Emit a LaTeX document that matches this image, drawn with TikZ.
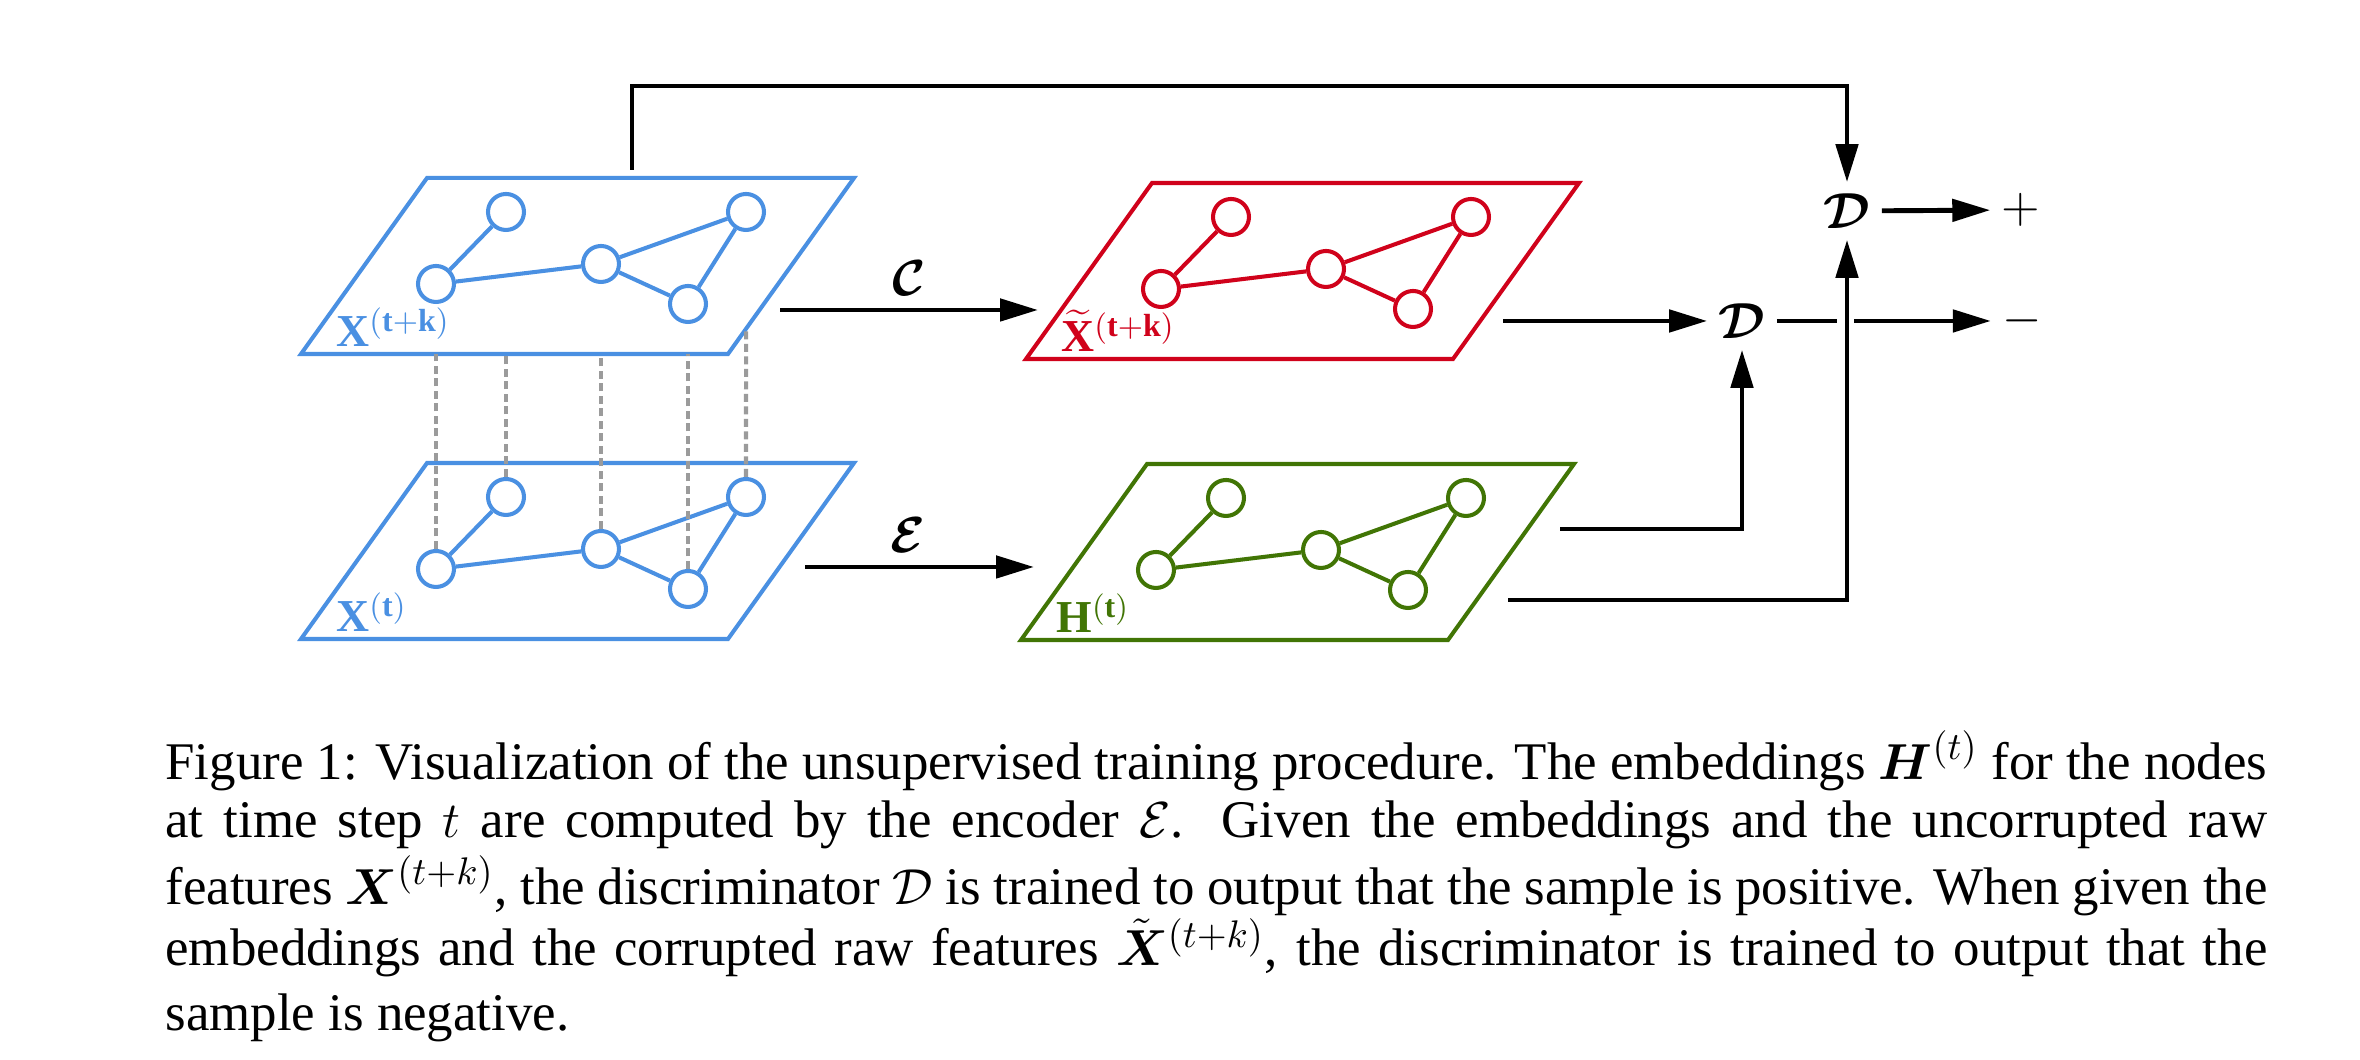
\documentclass[tikz,border=0pt]{standalone}
\usepackage{amsmath}
\usepackage{fontspec}
\setmainfont{Liberation Serif}
\usetikzlibrary{arrows.meta}
\definecolor{planeblue}{RGB}{74,144,226}
\definecolor{planered}{RGB}{208,2,27}
\definecolor{planegreen}{RGB}{65,117,5}
\definecolor{linkgray}{RGB}{155,155,155}

\begin{document}
\begin{tikzpicture}[
    line width=1.4pt,
    plane/.style={line width=1.15pt, line join=miter},
    gnode/.style={circle, draw=#1, fill=white, line width=1.15pt, minimum size=0.36cm, inner sep=0pt},
    gedge/.style={draw=#1, line width=1.15pt},
    flow/.style={-{Triangle[length=0.38cm,width=0.22cm]}, line width=1.4pt},
    link/.style={linkgray, dash pattern=on 0.08cm off 0.045cm, line width=1.15pt},
    op/.style={inner sep=0.09cm, font=\fontsize{14}{16}\selectfont},
    planelabel/.style={anchor=base west, inner sep=0pt, font=\fontsize{13}{15}\selectfont},
  ]
\useasboundingbox (0,0) rectangle (23.6,10.6);

% graph planes
\foreach \p/\col/\tx/\ty/\lab in {
    t/planeblue/4.27/8.82/{$\mathbf{X}^{(\mathbf{t+k})}$},
    b/planeblue/4.27/5.97/{$\mathbf{X}^{(\mathbf{t})}$},
    r/planered/11.52/8.77/{$\widetilde{\mathbf{X}}^{(\mathbf{t+k})}$},
    g/planegreen/11.47/5.96/{$\mathbf{H}^{(\mathbf{t})}$}}{
  \begin{scope}[shift={(\tx,\ty)}]
    \draw[plane, \col] (0,0) coordinate (\p-tl) -- (4.27,0) coordinate (\p-tr)
      -- (3.01,-1.76) coordinate (\p-br) -- (-1.26,-1.76) coordinate (\p-bl) -- cycle;
    \node[gnode=\col] (\p1) at (0.79,-0.34) {};
    \node[gnode=\col] (\p2) at (0.09,-1.06) {};
    \node[gnode=\col] (\p3) at (1.74,-0.86) {};
    \node[gnode=\col] (\p4) at (3.19,-0.34) {};
    \node[gnode=\col] (\p5) at (2.61,-1.26) {};
    \foreach \u/\v in {1/2,2/3,3/4,3/5,4/5}
      \draw[gedge=\col] (\p\u) -- (\p\v);
    \node[planelabel, text=\col] (\p-lab) at (-0.93,-1.69) {\lab};
  \end{scope}
}

% correspondences between X(t+k) and X(t)
\foreach \i in {1,2,3,5}
  \draw[link] (b\i.north) -- (b\i.north |- t-bl);
\draw[link] (b4.north) -- (intersection of b4.north--t4.center and t-br--t-tr);

% discriminators
\node[op] (Dp) at (18.47,8.49) {$\boldsymbol{\mathcal{D}}$};
\node[op] (plus) at (20.21,8.50) {$+$};
\node[op] (Dm) at (17.42,7.39) {$\boldsymbol{\mathcal{D}}$};
\node[op] (minus) at (20.22,7.39) {$-$};

\coordinate (t-out) at (6.32,8.90);
\coordinate (t-up) at (6.32,9.74);
\coordinate (t-c) at (7.80,7.50);
\coordinate (r-c) at (10.38,7.50);
\coordinate (b-e) at (8.05,4.93);
\coordinate (g-e) at (10.34,4.93);
\coordinate (r-out) at (15.03,7.39);
\coordinate (g-out) at (15.60,5.31);
\coordinate (g-low) at (15.08,4.60);
\coordinate (hop) at (Dp |- Dm);

\draw[flow] (t-out) -- (t-up) -| (Dp);
\draw[flow] (t-c) -- node[op, above=0.03cm] (c-lab) {$\boldsymbol{\mathcal{C}}$} (r-c);
\draw[flow] (b-e) -- node[op, pos=0.45, above=0.03cm] (e-lab) {$\boldsymbol{\mathcal{E}}$} (g-e);
\draw[flow] (r-out) -- (Dm);
\draw[flow] (g-out) -| (Dm);
\draw[flow] (Dp) -- (plus);
\draw (Dm) -- ([xshift=-0.1cm]hop);
\draw[flow] ([xshift=0.07cm]hop) -- (minus);
\draw[flow] (g-low) -| (Dp);

\node[anchor=north west, inner sep=0pt, text width=21.02cm, align=justify,
      font=\fontsize{15.05}{16.55}\selectfont] (caption) at (1.63,3.20)
  {Figure 1: Visualization of the unsupervised training procedure. The embeddings $\smash{\boldsymbol{H}^{(t)}}$ for the nodes\linebreak
   at time step $t$ are computed by the encoder $\mathcal{E}$.  Given the embeddings and the uncorrupted raw\vadjust{\vskip2.3pt}\linebreak
   features $\smash{\boldsymbol{X}^{(t+k)}}$, the discriminator $\mathcal{D}$ is trained to output that the sample is positive. When given the\vadjust{\vskip0.9pt}\linebreak
   embeddings and the corrupted raw features $\smash{\tilde{\boldsymbol{X}}{}^{(t+k)}}$, the discriminator is trained to output that the\vadjust{\vskip1.9pt}\linebreak
   sample is negative.};
\end{tikzpicture}
\end{document}
